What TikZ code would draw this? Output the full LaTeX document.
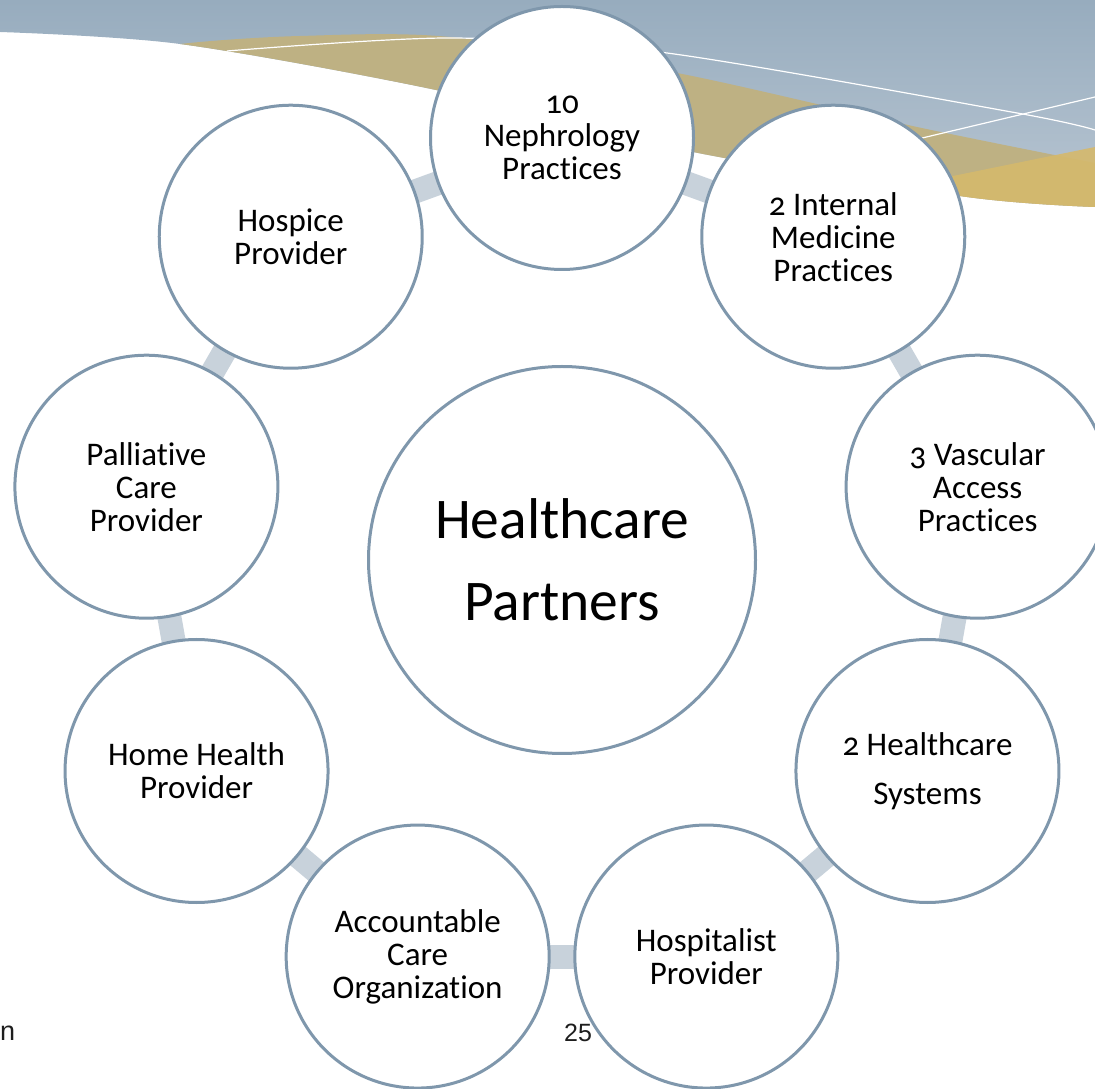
\documentclass[tikz,border=0pt]{standalone}
\usepackage{fontspec}
\setmainfont{Carlito}[Numbers=OldStyle, Ligatures=NoCommon]
\newfontfamily\footfont{Liberation Sans}
\usepackage{tikz}
\usetikzlibrary{calc}
\definecolor{ringblue}{RGB}{127,151,172}
\definecolor{linkgrey}{RGB}{200,210,219}
\definecolor{bannertop}{RGB}{151,172,190}
\definecolor{bannerlow}{RGB}{186,199,211}
\definecolor{bannertan}{RGB}{190,177,131}
\definecolor{bannergold}{RGB}{213,185,108}
\definecolor{footgrey}{RGB}{30,30,30}
\tikzstyle{partner} = [circle, draw=ringblue, fill=white, line width=3pt, minimum size=263pt, inner sep=0pt, align=center, font=\fontsize{33}{33}\selectfont]
\tikzstyle{hub} = [partner, minimum size=387pt, font=\fontsize{57.5}{82}\selectfont]
\tikzstyle{link} = [line width=24pt, color=linkgrey]
\tikzstyle{footer} = [anchor=base west, inner sep=0pt, text=footgrey]
\pgfdeclarelayer{banner}
\pgfdeclarelayer{links}
\pgfsetlayers{banner,links,main}

\begin{document}
\begin{tikzpicture}[x=1pt, y=1pt]
\useasboundingbox (0,0) rectangle (1095,1088);

% Wave banner along the top
\begin{pgfonlayer}{banner}
\begin{scope}
\clip plot[smooth] coordinates {(0,1056) (180,1044) (436,998) (693,936) (967,891) (1095,881)} -- (1095,1088) -- (0,1088) -- cycle;
\shade[top color=bannertop, bottom color=bannerlow] (0,870) rectangle (1095,1088);
\fill[bannertan] plot[smooth] coordinates {(90,1028) (180,1044) (300,1052) (450,1051) (677,1015) (917,961) (1095,925)} -- (1095,860) -- (90,860) -- cycle;
\fill[bannergold, opacity=0.9] (860,893) -- (1095,941) -- (1095,860) -- (860,860) -- cycle;
\end{scope}
\draw[white, line width=1.2pt] plot[smooth] coordinates {(227,1037) (450,1050) (667,1035) (1017,975) (1095,958)};
\draw[white, line width=1.2pt] (880,940) -- (1095,991);

% Footer bits
\node (footleft) [footer, font=\footfont\fontsize{27}{30}\selectfont] at (0,48) {n};
\node (pageno) [footer, font=\footfont\fontsize{25}{28}\selectfont] at (564,47) {25};
\end{pgfonlayer}

% Hub
\node (hub) [hub] at (562,528) {Healthcare\\Partners};

% Partners around the hub
\node (neph) [partner] at ($(hub)+(90:422)$) {10\\Nephrology\\Practices};
\node (intmed) [partner] at ($(hub)+(50:422)$) {2 Internal\\Medicine\\Practices};
\node (vasc) [partner] at ($(hub)+(10:422)$) {3 Vascular\\Access\\Practices};
\node (systems) [partner] at ($(hub)+(-30:422)$) {2 Healthcare\\[16pt]Systems};
\node (hospitalist) [partner] at ($(hub)+(-70:422)$) {Hospitalist\\Provider};
\node (aco) [partner] at ($(hub)+(-110:422)$) {Accountable\\Care\\Organization};
\node (homehealth) [partner] at ($(hub)+(-150:422)$) {Home Health\\Provider};
\node (palliative) [partner] at ($(hub)+(170:422)$) {Palliative\\Care\\Provider};
\node (hospice) [partner] at ($(hub)+(130:422)$) {Hospice\\Provider};

% Ring connections
\begin{pgfonlayer}{links}
\draw[link] (neph.center) -- (intmed.center);
\draw[link] (intmed.center) -- (vasc.center);
\draw[link] (vasc.center) -- (systems.center);
\draw[link] (systems.center) -- (hospitalist.center);
\draw[link] (hospitalist.center) -- (aco.center);
\draw[link] (aco.center) -- (homehealth.center);
\draw[link] (homehealth.center) -- (palliative.center);
\draw[link] (palliative.center) -- (hospice.center);
\draw[link] (hospice.center) -- (neph.center);
\end{pgfonlayer}
\end{tikzpicture}
\end{document}
